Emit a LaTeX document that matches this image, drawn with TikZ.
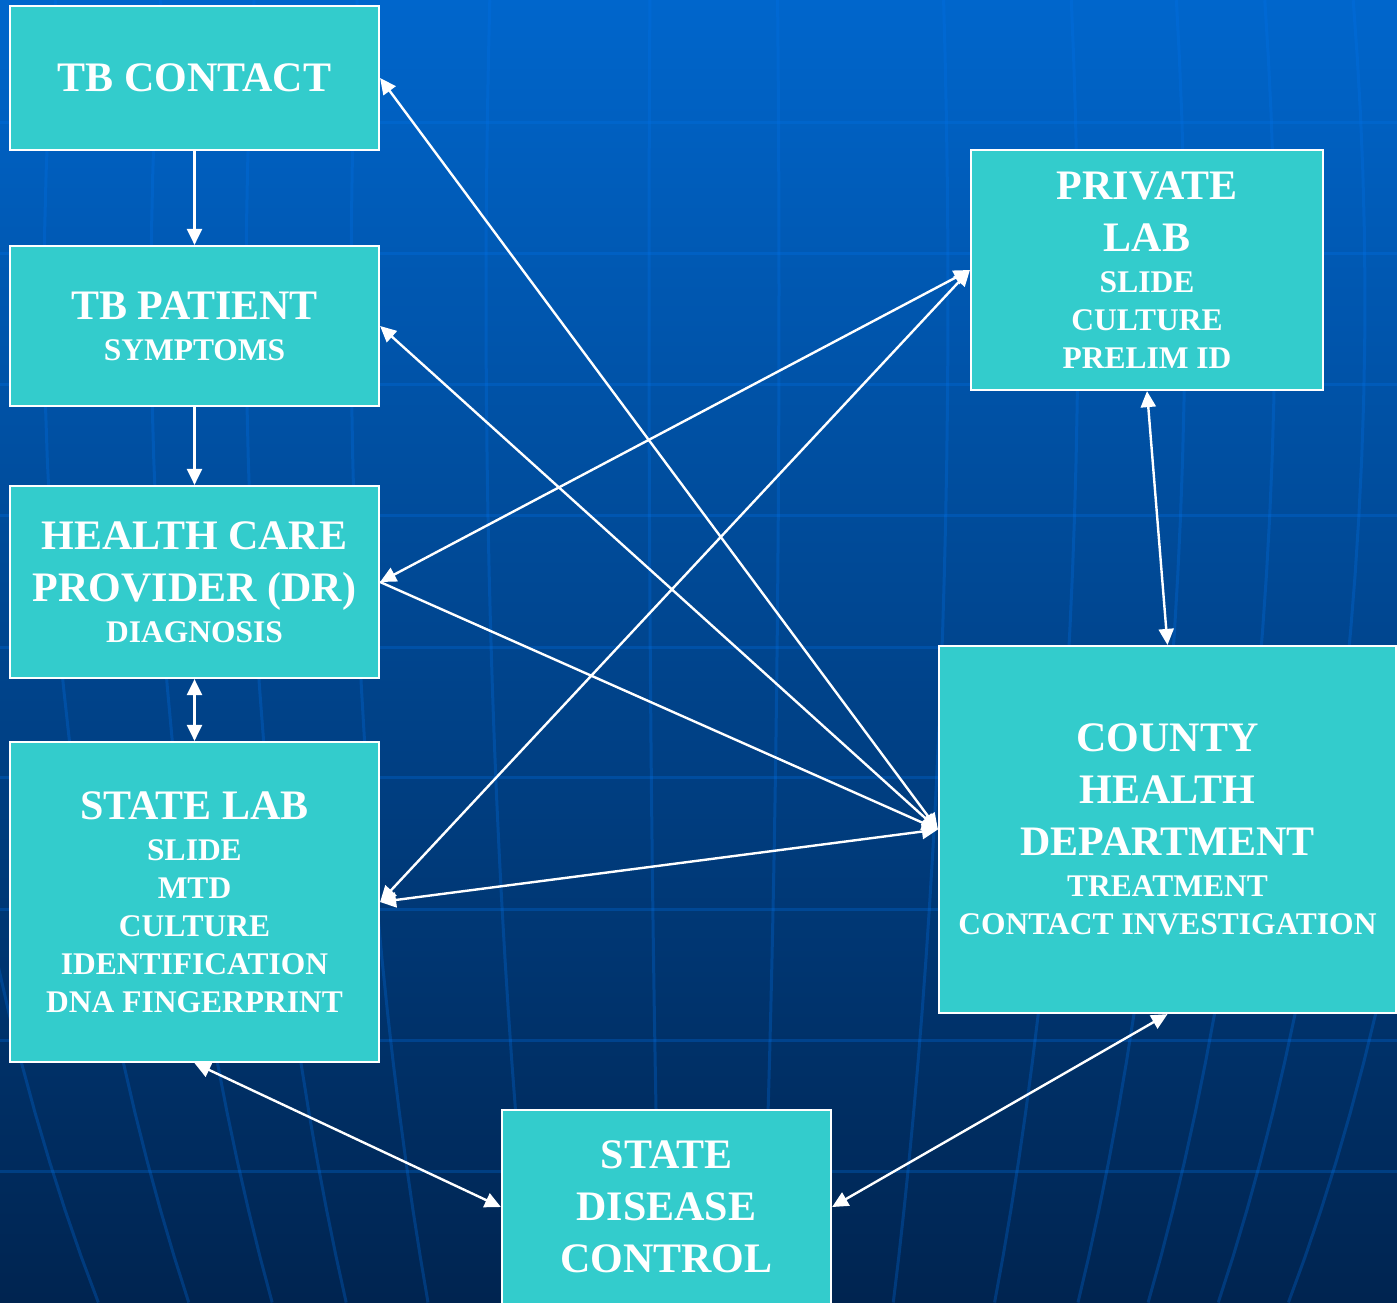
\documentclass[tikz,border=0pt]{standalone}
\usepackage{fontspec}
\setmainfont{Liberation Serif}
\usepackage{xcolor}
\usetikzlibrary{arrows.meta}
\definecolor{boxcyan}{RGB}{51,204,204}
\definecolor{bgtop}{RGB}{0,102,204}
\definecolor{bgmid}{RGB}{0,72,150}
\definecolor{bgbot}{RGB}{0,36,80}
\definecolor{gridblue}{RGB}{0,115,235}
\newcommand{\bigtxt}{\fontsize{42}{52}\selectfont}
\newcommand{\smalltxt}{\fontsize{31.5}{38}\selectfont}
\newcommand{\sm}[1]{{\smalltxt #1}}
\tikzset{
	box/.style={draw=white, line width=2.2pt, fill=boxcyan, text=white,
			align=center, font=\bfseries\bigtxt, inner sep=0pt},
	link/.style={draw=white, line width=2.4pt,
			{Triangle[length=16pt,width=15pt]}-{Triangle[length=16pt,width=15pt]}},
	oneway/.style={draw=white, line width=2.4pt, -{Triangle[length=16pt,width=15pt]}},
	gridline/.style={draw=gridblue, opacity=0.28, line width=3pt}
}

\begin{document}
\begin{tikzpicture}[x=1pt, y=-1pt]
        \useasboundingbox (0,0) rectangle (1397,1302);
        % background
        \shade[top color=bgtop, middle color=bgmid, bottom color=bgbot] (0,0) rectangle (1397,1302);
        \foreach \y in {122,253,384,515,647,777,909,1040,1171}
            \draw[gridline] (0,\y) -- (1397,\y);
        \foreach \a in {-772,-656,-549,-454,-349,-214,-51,79,248,378,485,575,665,755}
            \draw[gridline] plot[domain=-10.8:38.8, samples=25] ({700+\a*cos(\x)},{300+1600*sin(\x)});
        % boxes
        \node[box, minimum width=369pt, minimum height=144pt] (contact) at (194.5,78) {TB CONTACT};
        \node[box, minimum width=369pt, minimum height=160pt] (patient) at (194.5,326)
            {TB PATIENT\\[-11pt]\sm{SYMPTOMS}};
        \node[box, minimum width=369pt, minimum height=192pt] (provider) at (194.5,582)
            {HEALTH CARE\\PROVIDER (DR)\\[-11pt]\sm{DIAGNOSIS}};
        \node[box, minimum width=369pt, minimum height=320pt] (statelab) at (194.5,902)
            {STATE LAB\\[-11pt]\sm{SLIDE}\\[-14pt]\sm{MTD}\\[-14pt]\sm{CULTURE}\\[-14pt]\sm{IDENTIFICATION}\\[-14pt]\sm{DNA FINGERPRINT}};
        \node[box, minimum width=352pt, minimum height=240pt] (privlab) at (1147,270)
            {PRIVATE\\LAB\\[-11pt]\sm{SLIDE}\\[-14pt]\sm{CULTURE}\\[-14pt]\sm{PRELIM ID}};
        \node[box, minimum width=457pt, minimum height=367pt] (county) at (1167.5,829.5)
            {COUNTY\\HEALTH\\DEPARTMENT\\[-11pt]\sm{TREATMENT}\\[-14pt]\sm{CONTACT INVESTIGATION}};
        \node[box, minimum width=329pt, minimum height=194pt] (disease) at (666.5,1207)
            {STATE\\DISEASE\\CONTROL};
        % connectors
        \draw[oneway] (contact.south) -- (patient.north);
        \draw[oneway] (patient.south) -- (provider.north);
        \draw[link] (provider.south) -- (statelab.north);
        \draw[link] (contact.east) -- (county.west);
        \draw[link] (patient.east) -- (county.west);
        \draw[link] (provider.east) -- (privlab.west);
        \draw[oneway] (provider.east) -- (county.west);
        \draw[link] (statelab.east) -- (privlab.west);
        \draw[link] (statelab.east) -- (county.west);
        \draw[link] (privlab.south) -- (county.north);
        \draw[link] (statelab.south) -- (disease.west);
        \draw[link] (disease.east) -- (county.south);
\end{tikzpicture}
\end{document}
